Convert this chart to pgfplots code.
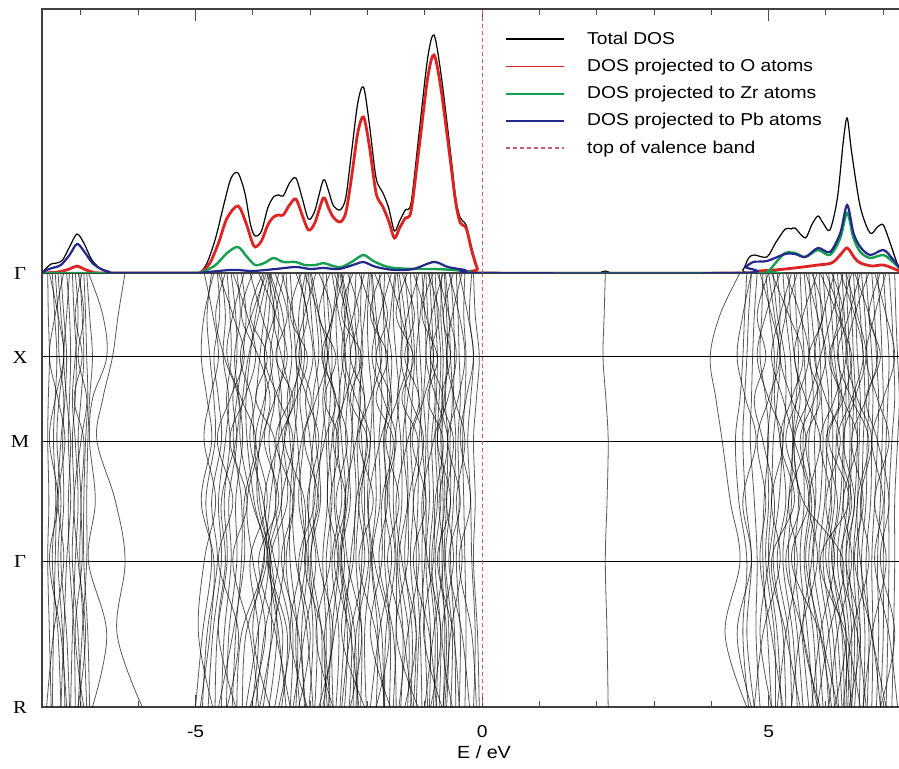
\documentclass[border=0pt]{standalone}
\usepackage{fontspec}
\setmainfont{Liberation Sans}[FakeStretch=1.12]
\newfontfamily\kfont{Liberation Serif}[FakeStretch=1.12]
\usepackage{pgfplots}
\usepackage{pgfplotstable}
\pgfplotsset{compat=1.18}
\definecolor{dosred}{RGB}{222,35,35}
\definecolor{dosgreen}{RGB}{20,160,80}
\definecolor{dosblue}{RGB}{35,40,140}
\definecolor{vbm}{RGB}{205,90,110}

% ---------- DOS (height in arbitrary units) ----------
\pgfplotstableread{
E D
-7.68 0
-7.62 4
-7.52 9
-7.42 10
-7.32 13
-7.20 26
-7.07 39
-6.95 30
-6.82 14
-6.68 5
-6.55 1
-6.40 0
-5.05 0
-4.92 1
-4.80 10
-4.65 35
-4.50 70
-4.38 95
-4.26 100
-4.14 80
-4.04 48
-3.96 37
-3.85 42
-3.74 65
-3.64 76
-3.55 78
-3.47 77
-3.36 90
-3.25 95
-3.14 75
-3.03 54
-2.92 62
-2.77 93
-2.68 82
-2.60 68
-2.48 63
-2.38 75
-2.28 120
-2.17 170
-2.07 186
-1.97 150
-1.85 95
-1.73 80
-1.63 65
-1.53 42
-1.44 52
-1.34 63
-1.24 70
-1.10 140
-0.95 215
-0.84 238
-0.72 200
-0.56 125
-0.46 75
-0.38 55
-0.28 48
-0.18 25
-0.08 5
0.00 0
2.05 0
2.15 2
2.25 0
4.40 0
4.55 3
4.65 15
4.75 18
4.97 16
5.12 30
5.29 44
5.40 44
5.46 45
5.64 35
5.75 48
5.86 57
5.95 50
6.07 43
6.20 75
6.30 130
6.37 155
6.45 120
6.60 66
6.77 40
6.90 46
7.00 48
7.12 30
7.24 10
7.31 3
}\dostot

\pgfplotstableread{
E D
-7.68 0
-7.40 1
-7.20 4
-7.07 7
-6.95 4
-6.80 1
-6.60 0
-5.05 0
-4.90 1
-4.75 10
-4.60 30
-4.45 55
-4.26 67
-4.12 50
-4.02 32
-3.96 26
-3.85 32
-3.74 48
-3.64 56
-3.55 58
-3.47 58
-3.36 68
-3.25 74
-3.14 58
-3.03 43
-2.92 50
-2.77 75
-2.68 65
-2.60 56
-2.48 51
-2.38 60
-2.28 95
-2.17 140
-2.07 156
-1.97 128
-1.85 80
-1.73 66
-1.63 52
-1.53 35
-1.44 45
-1.34 55
-1.24 62
-1.10 125
-0.95 195
-0.84 218
-0.72 185
-0.56 115
-0.46 70
-0.38 50
-0.28 45
-0.18 22
-0.08 4
0.00 0
4.70 0
4.85 2
5.10 3
5.29 4
5.60 6
5.86 8
6.10 10
6.25 18
6.37 25
6.50 15
6.60 10
6.80 7
7.00 8
7.20 4
7.31 1
}\doso

\pgfplotstableread{
E D
-7.68 0
-6.40 0
-5.05 0
-4.85 2
-4.65 8
-4.45 20
-4.26 26
-4.10 16
-3.96 8
-3.80 10
-3.64 15
-3.47 11
-3.25 11
-3.10 8
-2.90 8
-2.77 10
-2.60 7
-2.45 6
-2.25 12
-2.07 18
-1.90 12
-1.70 7
-1.53 5
-1.20 4
-0.84 4
-0.50 3
-0.20 1
0.00 0
4.80 0
4.99 2
5.15 12
5.29 20
5.46 20
5.64 16
5.86 23
6.07 18
6.25 35
6.37 60
6.48 35
6.60 21
6.77 15
7.00 18
7.15 12
7.31 3
}\doszr

\pgfplotstableread{
E D
-7.68 0
-7.60 3
-7.50 5
-7.35 8
-7.20 18
-7.07 29
-6.95 22
-6.80 10
-6.65 4
-6.50 1
-6.40 0
-5.05 0
-4.80 1
-4.40 3
-4.26 3
-4.00 2
-3.60 4
-3.25 6
-3.00 4
-2.77 5
-2.50 4
-2.20 9
-2.07 11
-1.85 6
-1.53 3
-1.20 4
-0.84 11
-0.60 6
-0.30 3
0.00 0
4.50 0
4.60 6
4.73 11
4.97 12
5.29 19
5.46 19
5.64 16
5.86 25
6.07 21
6.25 40
6.37 68
6.48 40
6.60 26
6.77 18
7.00 23
7.15 15
7.31 3
}\dospb

% ---------- bands: first row = k positions (G, G-X, X, X-M, M, M-G, G, G-R, R); other rows = band energies ----------
\pgfplotstableread{
a b c d e f g h i
0 42 84 126 168 228 288 361 434
-4.72 -4.80 -4.75 -4.68 -4.66 -4.82 -4.72 -4.88 -5.00
-4.62 -4.58 -4.68 -4.60 -4.55 -4.72 -4.62 -4.80 -4.88
-4.55 -4.48 -4.52 -4.42 -4.48 -4.60 -4.55 -4.70 -4.78
-4.45 -4.40 -4.38 -4.46 -4.40 -4.50 -4.45 -4.62 -4.66
-4.38 -4.30 -4.28 -4.35 -4.28 -4.42 -4.38 -4.50 -4.55
-4.28 -4.22 -4.32 -4.24 -4.18 -4.30 -4.28 -4.42 -4.46
-4.20 -4.12 -4.18 -4.28 -4.34 -4.20 -4.20 -4.30 -4.36
-3.80 -3.95 -4.05 -4.12 -4.10 -3.98 -3.80 -4.20 -4.28
-3.76 -4.02 -4.22 -4.02 -3.98 -3.88 -3.76 -4.12 -4.18
-3.73 -3.90 -4.08 -4.18 -4.22 -4.02 -3.73 -3.92 -4.12
-3.70 -3.80 -3.88 -3.95 -4.05 -3.82 -3.70 -3.68 -3.82
-3.68 -3.72 -3.80 -3.78 -3.88 -3.92 -3.68 -3.58 -3.72
-3.75 -3.62 -3.70 -3.62 -3.72 -3.60 -3.75 -3.48 -3.62
-3.72 -3.55 -3.58 -3.50 -3.55 -3.50 -3.72 -3.40 -3.50
-3.70 -3.48 -3.45 -3.55 -3.48 -3.40 -3.70 -3.55 -3.42
-3.42 -3.38 -3.32 -3.40 -3.35 -3.28 -3.42 -3.30 -3.35
-3.35 -3.30 -3.25 -3.22 -3.28 -3.35 -3.35 -3.22 -3.25
-3.08 -3.20 -3.18 -3.28 -3.22 -3.15 -3.08 -3.25 -3.18
-3.05 -3.12 -3.10 -3.18 -3.12 -3.20 -3.05 -3.15 -3.08
-3.03 -2.98 -2.92 -2.85 -2.95 -3.02 -3.03 -2.95 -3.02
-3.00 -2.90 -2.85 -2.95 -2.90 -2.82 -3.00 -2.88 -2.92
-2.98 -2.85 -2.78 -2.72 -2.80 -2.88 -2.98 -2.80 -2.82
-2.78 -2.75 -2.70 -2.78 -2.72 -2.70 -2.78 -2.72 -2.75
-2.72 -2.68 -2.62 -2.65 -2.68 -2.62 -2.72 -2.65 -2.68
-2.52 -2.60 -2.68 -2.58 -2.62 -2.70 -2.52 -2.75 -2.70
-2.50 -2.55 -2.52 -2.48 -2.55 -2.58 -2.50 -2.62 -2.60
-2.48 -2.40 -2.42 -2.50 -2.45 -2.38 -2.48 -2.35 -2.40
-2.46 -2.35 -2.30 -2.35 -2.38 -2.30 -2.46 -2.28 -2.32
-2.45 -2.30 -2.20 -2.25 -2.28 -2.35 -2.45 -2.22 -2.20
-2.20 -2.22 -2.15 -2.12 -2.18 -2.15 -2.20 -2.10 -2.12
-2.10 -2.12 -2.08 -2.15 -2.10 -2.05 -2.10 -2.15 -2.18
-1.98 -2.05 -2.12 -2.05 -2.02 -2.10 -1.98 -2.20 -2.25
-1.95 -2.00 -1.98 -1.92 -1.95 -2.00 -1.95 -2.05 -2.02
-1.93 -1.90 -1.85 -1.90 -1.88 -1.85 -1.93 -1.82 -1.85
-1.92 -1.85 -1.78 -1.75 -1.80 -1.78 -1.92 -1.75 -1.72
-1.70 -1.72 -1.68 -1.65 -1.70 -1.68 -1.70 -1.60 -1.62
-1.52 -1.60 -1.65 -1.58 -1.60 -1.62 -1.52 -1.68 -1.70
-1.50 -1.55 -1.50 -1.45 -1.52 -1.55 -1.50 -1.50 -1.55
-1.48 -1.42 -1.40 -1.48 -1.42 -1.40 -1.48 -1.38 -1.42
-1.45 -1.35 -1.30 -1.35 -1.32 -1.30 -1.45 -1.28 -1.30
-1.25 -1.22 -1.18 -1.22 -1.25 -1.20 -1.25 -1.15 -1.20
-1.15 -1.12 -1.08 -1.05 -1.10 -1.12 -1.15 -1.08 -1.05
-1.05 -1.00 -0.98 -1.02 -0.98 -1.02 -1.05 -1.00 -0.95
-0.98 -0.95 -0.90 -0.92 -0.95 -0.92 -0.98 -0.90 -0.92
-0.92 -0.88 -0.85 -0.82 -0.88 -0.85 -0.92 -0.82 -0.85
-0.88 -0.82 -0.78 -0.80 -0.82 -0.78 -0.88 -0.78 -0.80
-0.82 -0.78 -0.72 -0.75 -0.78 -0.72 -0.82 -0.72 -0.75
-0.70 -0.72 -0.68 -0.70 -0.72 -0.68 -0.70 -0.65 -0.68
-0.66 -0.62 -0.60 -0.64 -0.60 -0.62 -0.66 -0.58 -0.62
-0.64 -0.58 -0.55 -0.52 -0.56 -0.55 -0.64 -0.52 -0.55
-0.55 -0.50 -0.48 -0.50 -0.46 -0.50 -0.55 -0.48 -0.46
-0.45 -0.42 -0.40 -0.38 -0.42 -0.40 -0.45 -0.38 -0.40
-0.30 -0.32 -0.28 -0.30 -0.34 -0.32 -0.30 -0.28 -0.30
-0.18 -0.22 -0.15 -0.20 -0.25 -0.20 -0.18 -0.12 -0.15
-0.15 -0.12 -0.05 -0.10 -0.15 -0.12 -0.15 -0.08 -0.05
-4.05 -3.85 -3.65 -3.80 -3.95 -3.75 -4.05 -3.90 -4.02
-3.55 -3.65 -3.50 -3.35 -3.45 -3.60 -3.55 -3.80 -3.95
-3.20 -3.05 -2.95 -3.08 -3.00 -2.92 -3.20 -3.05 -2.95
-2.62 -2.50 -2.38 -2.42 -2.52 -2.45 -2.62 -2.50 -2.55
-2.30 -2.38 -2.45 -2.32 -2.25 -2.20 -2.30 -2.40 -2.48
-1.80 -1.70 -1.58 -1.62 -1.72 -1.65 -1.80 -1.55 -1.50
-1.35 -1.28 -1.22 -1.30 -1.38 -1.30 -1.35 -1.22 -1.25
-1.00 -1.08 -1.15 -1.10 -1.05 -0.98 -1.00 -1.10 -1.15
-0.75 -0.68 -0.62 -0.66 -0.70 -0.65 -0.75 -0.62 -0.68
-4.60 -4.35 -4.15 -4.40 -4.62 -4.35 -4.60 -4.25 -4.45
-4.48 -4.65 -4.50 -4.25 -4.30 -4.55 -4.48 -4.60 -4.30
-4.35 -4.10 -3.95 -4.15 -4.40 -4.10 -4.35 -4.05 -3.90
-4.15 -4.35 -4.45 -4.20 -3.95 -4.15 -4.15 -4.35 -4.60
-4.00 -4.20 -3.90 -3.70 -3.85 -4.10 -4.00 -3.78 -4.05
-3.90 -3.60 -3.40 -3.62 -3.80 -3.55 -3.90 -3.60 -3.35
-3.82 -4.05 -3.75 -3.95 -3.62 -3.70 -3.82 -4.00 -3.70
-3.62 -3.40 -3.60 -3.30 -3.55 -3.80 -3.62 -3.35 -3.55
-3.50 -3.30 -3.15 -3.35 -3.60 -3.30 -3.50 -3.20 -3.10
-3.45 -3.62 -3.80 -3.55 -3.30 -3.50 -3.45 -3.65 -3.88
-3.25 -3.05 -3.20 -2.98 -3.15 -3.30 -3.25 -3.00 -3.20
-3.15 -3.35 -3.05 -3.25 -3.45 -3.10 -3.15 -3.35 -3.05
-3.10 -2.85 -2.70 -2.90 -3.10 -2.85 -3.10 -2.78 -2.65
-2.90 -3.10 -3.25 -3.05 -2.85 -3.05 -2.90 -3.10 -3.30
-2.85 -2.62 -2.80 -2.55 -2.75 -2.95 -2.85 -2.60 -2.85
-2.65 -2.85 -2.55 -2.75 -2.50 -2.65 -2.65 -2.90 -2.60
-2.58 -2.35 -2.20 -2.40 -2.60 -2.38 -2.58 -2.30 -2.15
-2.40 -2.60 -2.75 -2.55 -2.35 -2.55 -2.40 -2.58 -2.78
-2.35 -2.15 -2.30 -2.05 -2.20 -2.40 -2.35 -2.10 -2.30
-2.25 -2.45 -2.10 -2.30 -2.00 -2.20 -2.25 -2.45 -2.05
-2.15 -1.90 -1.75 -1.95 -2.15 -1.90 -2.15 -1.85 -1.70
-2.05 -2.25 -2.40 -2.20 -1.95 -2.15 -2.05 -2.30 -2.45
-1.88 -1.65 -1.85 -1.60 -1.78 -1.98 -1.88 -1.62 -1.85
-1.75 -1.95 -1.65 -1.85 -1.55 -1.75 -1.75 -1.95 -1.60
-1.65 -1.42 -1.28 -1.48 -1.68 -1.45 -1.65 -1.38 -1.22
-1.58 -1.78 -1.92 -1.72 -1.50 -1.70 -1.58 -1.80 -1.95
-1.40 -1.18 -1.35 -1.10 -1.30 -1.50 -1.40 -1.15 -1.35
-1.30 -1.50 -1.20 -1.40 -1.12 -1.28 -1.30 -1.50 -1.12
-1.20 -0.98 -0.85 -1.02 -1.22 -0.98 -1.20 -0.92 -0.80
-1.10 -1.30 -1.42 -1.25 -1.02 -1.20 -1.10 -1.30 -1.45
-0.95 -0.75 -0.90 -0.68 -0.85 -1.05 -0.95 -0.72 -0.90
-0.85 -1.05 -0.78 -0.95 -0.68 -0.82 -0.85 -1.02 -0.70
-0.78 -0.58 -0.45 -0.60 -0.78 -0.55 -0.78 -0.50 -0.40
-0.68 -0.88 -0.98 -0.80 -0.60 -0.75 -0.68 -0.85 -1.00
-0.58 -0.40 -0.30 -0.42 -0.60 -0.38 -0.58 -0.35 -0.22
-0.50 -0.68 -0.55 -0.70 -0.50 -0.62 -0.50 -0.70 -0.52
-0.40 -0.25 -0.15 -0.28 -0.38 -0.20 -0.40 -0.18 -0.10
-0.35 -0.52 -0.62 -0.48 -0.30 -0.45 -0.35 -0.55 -0.65
-4.85 -4.70 -4.60 -4.75 -4.85 -4.65 -4.85 -4.95 -4.70
-4.68 -4.85 -4.90 -4.80 -4.72 -4.90 -4.68 -4.75 -4.92
-7.58 -7.57 -7.55 -7.57 -7.58 -7.56 -7.58 -7.55 -7.52
-7.50 -7.46 -7.42 -7.45 -7.48 -7.44 -7.50 -7.40 -7.35
-7.45 -7.40 -7.38 -7.30 -7.35 -7.42 -7.45 -7.48 -7.50
-7.35 -7.30 -7.25 -7.28 -7.32 -7.30 -7.35 -7.25 -7.20
-7.25 -7.20 -7.18 -7.20 -7.22 -7.18 -7.25 -7.30 -7.35
-7.15 -7.12 -7.08 -7.10 -7.15 -7.12 -7.15 -7.05 -7.00
-7.10 -7.05 -7.10 -7.15 -7.10 -7.05 -7.10 -7.15 -7.18
-7.02 -6.98 -6.95 -7.00 -7.05 -7.00 -7.02 -6.95 -6.90
-6.95 -6.92 -6.90 -6.88 -6.92 -6.95 -6.95 -6.88 -6.85
-6.90 -6.85 -6.80 -6.85 -6.88 -6.90 -6.90 -6.98 -7.05
-7.40 -7.35 -7.30 -7.38 -7.42 -7.35 -7.40 -7.32 -7.28
-7.20 -7.25 -7.30 -7.25 -7.18 -7.22 -7.20 -7.12 -7.10
-7.55 -7.40 -7.30 -7.45 -7.55 -7.40 -7.55 -7.35 -7.25
-7.30 -7.45 -7.55 -7.40 -7.28 -7.40 -7.30 -7.48 -7.60
-7.05 -6.95 -7.05 -6.90 -7.00 -7.12 -7.05 -6.92 -7.05
-6.98 -7.10 -6.98 -7.12 -6.95 -7.00 -6.98 -7.10 -6.95
-6.23 -6.35 -6.45 -6.62 -6.72 -6.40 -6.23 -6.37 -5.93
-6.87 -6.62 -6.55 -6.80 -6.85 -6.75 -6.87 -6.55 -6.80
2.15 2.13 2.11 2.16 2.20 2.18 2.15 2.18 2.20
4.50 4.15 3.98 4.08 4.19 4.33 4.50 4.24 4.62
4.62 4.58 4.55 4.50 4.42 4.48 4.62 4.55 4.65
4.70 4.65 4.62 4.58 4.55 4.60 4.70 4.62 4.75
4.80 4.75 4.72 4.70 4.68 4.75 4.80 4.78 4.85
4.90 4.88 4.85 4.95 5.00 4.92 4.90 4.98 5.05
4.95 5.02 5.10 5.05 4.98 5.00 4.95 5.10 5.12
5.00 5.10 5.20 5.15 5.08 5.05 5.00 5.15 5.22
5.08 5.15 5.28 5.30 5.25 5.18 5.08 5.25 5.30
5.15 5.20 5.15 5.10 5.20 5.30 5.15 5.35 5.40
5.25 5.30 5.38 5.40 5.42 5.35 5.25 5.42 5.50
5.35 5.38 5.45 5.55 5.43 5.40 5.35 5.50 5.60
5.45 5.48 5.52 5.48 5.43 5.52 5.45 5.58 5.70
5.55 5.58 5.62 5.65 5.60 5.62 5.55 5.68 5.78
5.62 5.68 5.72 5.78 5.70 5.72 5.62 5.78 5.85
5.70 5.75 5.82 5.85 5.80 5.82 5.70 5.85 5.95
5.78 5.85 5.90 5.92 5.95 5.90 5.78 5.95 6.05
5.88 5.92 5.98 6.05 6.02 5.98 5.88 6.05 6.15
5.95 6.00 6.08 6.10 6.12 6.08 5.95 6.12 6.22
6.05 6.10 6.15 6.22 6.18 6.15 6.05 6.20 6.28
6.12 6.18 6.22 6.28 6.30 6.25 6.12 6.28 6.32
6.20 6.25 6.30 6.35 6.32 6.30 6.20 6.35 6.35
6.28 6.32 6.38 6.40 6.42 6.38 6.28 6.40 6.38
6.35 6.38 6.42 6.48 6.45 6.42 6.35 6.45 6.42
6.40 6.45 6.48 6.52 6.55 6.50 6.40 6.50 6.45
6.48 6.52 6.55 6.60 6.58 6.55 6.48 6.55 6.50
6.55 6.60 6.65 6.68 6.65 6.62 6.55 6.60 6.58
6.62 6.68 6.72 6.75 6.72 6.70 6.62 6.68 6.65
6.70 6.75 6.80 6.82 6.80 6.78 6.70 6.75 6.72
6.80 6.85 6.88 6.92 6.90 6.85 6.80 6.82 6.80
6.90 6.95 6.98 7.00 6.98 6.95 6.90 6.92 6.88
7.00 7.05 7.10 7.08 7.05 7.02 7.00 7.00 6.95
7.10 7.15 7.18 7.20 7.15 7.10 7.10 7.08 7.05
7.20 7.22 7.25 7.28 7.25 7.20 7.20 7.18 7.15
5.40 5.20 5.05 5.25 5.45 5.70 5.40 5.90 6.20
6.30 6.10 5.90 5.70 5.45 5.60 6.30 6.05 5.85
5.90 6.20 6.45 6.30 6.05 6.40 5.90 6.35 6.60
6.60 6.40 6.20 6.45 6.75 6.55 6.60 6.80 7.05
5.05 5.35 5.60 5.40 5.20 5.45 5.05 5.30 5.55
4.70 4.55 4.45 4.60 4.78 4.55 4.70 4.45 4.70
4.85 5.05 5.20 5.00 4.80 4.95 4.85 5.05 5.25
5.20 4.95 4.80 5.00 5.25 5.05 5.20 4.90 4.75
5.30 5.55 5.70 5.50 5.30 5.55 5.30 5.60 5.85
5.50 5.30 5.20 5.40 5.65 5.35 5.50 5.30 5.15
5.65 5.85 6.00 5.80 5.55 5.75 5.65 5.90 6.10
5.85 5.60 5.45 5.65 5.90 5.70 5.85 5.55 5.40
6.00 6.25 6.35 6.15 5.90 6.10 6.00 6.30 6.45
6.15 5.95 5.80 6.00 6.25 6.00 6.15 5.90 5.75
6.25 6.50 6.65 6.45 6.20 6.45 6.25 6.55 6.70
6.45 6.25 6.10 6.30 6.55 6.30 6.45 6.20 6.05
6.50 6.75 6.90 6.70 6.45 6.65 6.50 6.80 6.95
6.75 6.50 6.35 6.55 6.80 6.60 6.75 6.45 6.30
6.85 7.05 7.20 7.00 6.80 7.00 6.85 7.10 7.25
7.05 6.85 6.70 6.90 7.10 6.85 7.05 6.80 6.65
6.35 6.55 6.70 6.50 6.30 6.50 6.35 6.60 6.40
5.75 5.95 5.70 5.90 5.65 5.80 5.75 5.60 5.90
6.95 6.75 6.95 6.70 6.90 7.10 6.95 7.20 6.95
5.00 4.80 4.95 4.75 4.90 5.10 5.00 4.85 5.05
6.10 6.30 6.05 6.25 6.00 6.20 6.10 6.35 6.15
}\bandrows
\pgfplotstabletranspose\bandcols\bandrows
\pgfplotstablegetrowsof{\bandrows}
\pgfmathtruncatemacro\nlast{\pgfplotsretval}

\begin{document}
\begin{tikzpicture}
\pgfplotsset{
  every axis/.append style={
    scale only axis, width=429.5pt,
    xmin=-7.68, xmax=7.31,
    axis line style={black!75, line width=0.7pt},
    tick style={black!70, line width=0.5pt},
    major tick length=6pt, minor tick length=3pt,
    xtick={-5,0,5}, minor xtick={-7,-6,...,7},
  },
}
% ----- band structure -----
\begin{axis}[
  at={(0,0)}, anchor=north west, height=217pt,
  ymin=0, ymax=434, y dir=reverse,
  ytick={0,84,168,288,434},
  yticklabels={{Γ},{X},{M},{Γ},{R}},
  yticklabel style={font=\kfont\fontsize{9.2}{11}\selectfont, anchor=center, inner sep=0pt, xshift=-11pt},
  ytick style={draw=none},
  ymajorgrids, grid style={black, line width=0.5pt},
  xtick pos=left,
  xticklabels={-5,0,5},
  xticklabel style={font=\fontsize{8.6}{10}\selectfont, inner sep=0pt, yshift=-9pt},
  xlabel={E / eV},
  xlabel style={font=\fontsize{8.8}{10}\selectfont, at={(axis description cs:0.5146,-0.1037)}, anchor=center},
]
\pgfplotsinvokeforeach{2,...,\nlast}{
  \addplot[black, opacity=0.65, line width=0.4pt, smooth, tension=0.6] table[x index=#1, y index=1] {\bandcols};
}
\addplot[vbm, line width=0.6pt, dash pattern=on 2pt off 1.5pt] coordinates {(0,0) (0,434)};
\end{axis}
% ----- DOS -----
\begin{axis}[
  at={(0,0)}, anchor=south west, height=132pt,
  ymin=0, ymax=264, ytick=\empty,
  xtick pos=right, xticklabels={{},{},{}},
  legend style={draw=none, fill=none, at={(axis cs:0.40,243)}, anchor=north west,
    inner sep=0pt, row sep=4.6pt, column sep=11pt,
    font=\fontsize{8.6}{10}\selectfont,
    nodes={inner sep=0pt, text height=7pt, text depth=2pt}},
  legend cell align=left,
  legend image code/.code={\draw[#1] (0pt,0pt) -- (29pt,0pt);},
  legend image post style={line width=0.9pt},
]
\addplot[black, line width=0.6pt, smooth, tension=0.5] table {\dostot};
\addlegendentry{Total DOS}
\addplot[dosred, line width=1.4pt, smooth, tension=0.5] table {\doso};
\addlegendentry{DOS projected to O atoms}
\addplot[dosgreen, line width=1.2pt, smooth, tension=0.5] table {\doszr};
\addlegendentry{DOS projected to Zr atoms}
\addplot[dosblue, line width=1.1pt, smooth, tension=0.5] table {\dospb};
\addlegendentry{DOS projected to Pb atoms}
\addplot[vbm, line width=0.6pt, dash pattern=on 2pt off 1.5pt] coordinates {(0,0) (0,264)};
\addlegendentry{top of valence band}
\end{axis}
\pgfresetboundingbox
\path (-21pt,-248pt) rectangle (428.5pt,136.5pt);
\end{tikzpicture}
\end{document}
